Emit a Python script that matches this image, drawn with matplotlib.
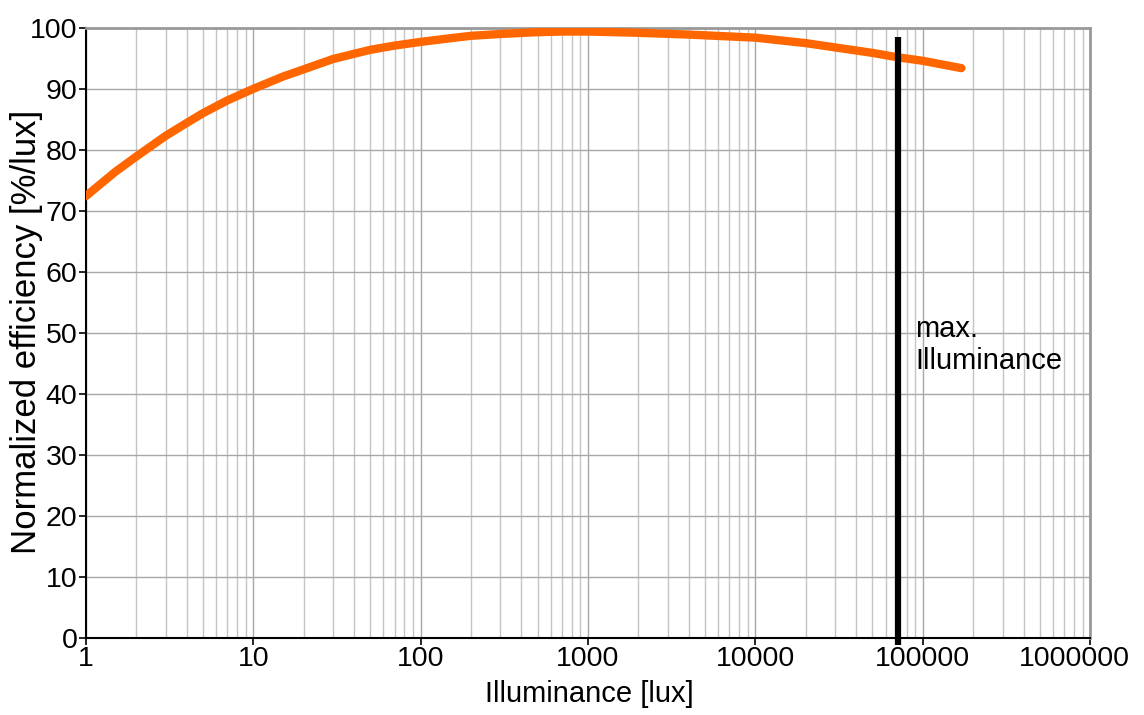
import matplotlib
matplotlib.use('Agg')
import matplotlib.pyplot as plt
import matplotlib.transforms as mtransforms
from matplotlib.ticker import FixedLocator, LogLocator, NullFormatter

plt.rcParams['font.family'] = ['Liberation Sans', 'DejaVu Sans']

# data
lux = [1, 1.5, 2, 3, 4, 5, 7, 10, 15, 20, 30, 50, 70, 100, 150, 200, 300,
       500, 700, 1000, 2000, 4000, 10000, 20000, 50000, 70000, 100000, 170000]
efficiency = [72.4, 76.4, 78.9, 82.3, 84.4, 86.0, 88.1, 90.0, 92.0, 93.2,
              94.9, 96.4, 97.1, 97.7, 98.3, 98.7, 99.0, 99.3, 99.4, 99.4,
              99.2, 98.9, 98.4, 97.5, 95.9, 95.2, 94.6, 93.4]
max_lux = 71000
max_line_top = 98.5
x_ticks = [1, 10, 100, 1000, 10000, 100000, 1000000]
x_labels = ['1', '10', '100', '1000', '10000', '100000', '1000000']
y_ticks = list(range(0, 101, 10))

fig = plt.figure(figsize=(11.44, 7.15), dpi=100)
ax = fig.add_axes([0.075, 0.108, 0.878, 0.853])

ax.set_xscale('log')
ax.set_xlim(1, 1e6)
ax.set_ylim(0, 100)

ax.plot(lux, efficiency, color='#ff6600', lw=6, solid_capstyle='round',
        solid_joinstyle='round', zorder=3)
ax.plot([max_lux, max_lux], [-1.2, max_line_top], color='black', lw=4.5,
        solid_capstyle='butt', zorder=4, clip_on=False)
ax.text(90000, 48, 'max.\nIlluminance', fontsize=21, ha='left', va='center',
        linespacing=1.2)

ax.xaxis.set_major_locator(FixedLocator(x_ticks))
ax.set_xticklabels(x_labels)
ax.xaxis.set_minor_locator(LogLocator(base=10, subs=range(2, 10), numticks=20))
ax.xaxis.set_minor_formatter(NullFormatter())
ax.set_yticks(y_ticks)

ax.grid(True, which='major', color='#a8a8a8', lw=1.0)
ax.grid(True, which='minor', axis='x', color='#c4c4c4', lw=1.0)
ax.set_axisbelow(True)

ax.tick_params(axis='both', which='major', labelsize=20.5, length=5,
               width=1.2, direction='out', colors='black', pad=1)
ax.tick_params(axis='x', which='minor', length=0)

# last x label is pulled left so it stays inside the picture
last = ax.xaxis.get_major_ticks()[-1].label1
last.set_transform(last.get_transform() +
                   mtransforms.ScaledTranslation(-0.16, 0, fig.dpi_scale_trans))

for side in ['left', 'bottom']:
    ax.spines[side].set_color('black')
    ax.spines[side].set_linewidth(1.5)
for side in ['top', 'right']:
    ax.spines[side].set_color('#999999')
    ax.spines[side].set_linewidth(2)

ax.set_xlabel('Illuminance [lux]', fontsize=21, va='center')
ax.xaxis.set_label_coords(0.5015, -0.092)
ax.set_ylabel('Normalized efficiency [%/lux]', fontsize=25, va='center')
ax.yaxis.set_label_coords(-0.059, 0.502)

fig.savefig('out.png', dpi=100)
